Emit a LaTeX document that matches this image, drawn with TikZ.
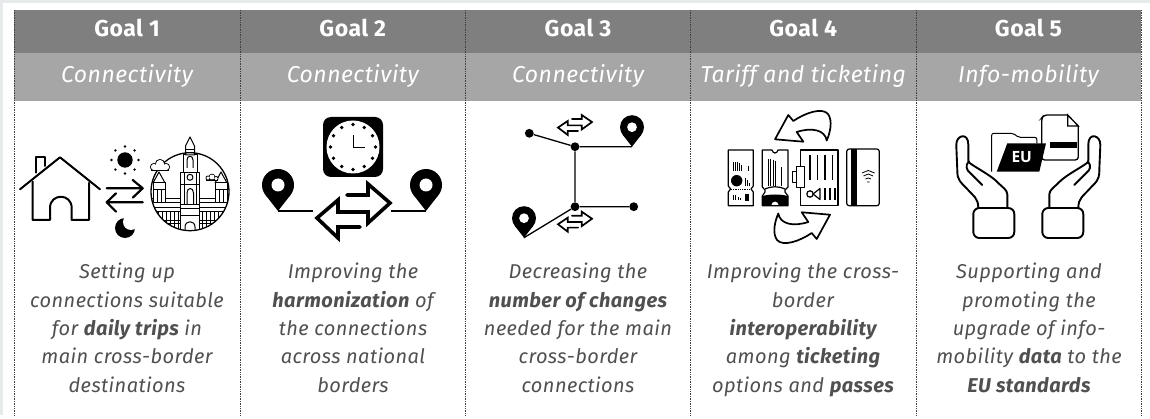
\documentclass[tikz,border=0pt]{standalone}
\usepackage{fontspec}
\setmainfont[LetterSpace=2.2,Ligatures=NoCommon]{Fira Sans}
\newfontfamily\eufont{Open Sans}
\definecolor{bandgrey}{HTML}{E6EAEB}
\definecolor{headdark}{HTML}{7F7F7F}
\definecolor{headlight}{HTML}{A6A6A6}
\definecolor{bodygrey}{HTML}{505050}
\tikzset{
  x=1pt,y=-1pt,
  headone/.style={fill=headdark,text=white,minimum height=43pt,inner sep=0pt,outer sep=0pt,font=\fontsize{23}{26}\selectfont\bfseries},
  headtwo/.style={fill=headlight,text=white,minimum height=48pt,inner sep=0pt,outer sep=0pt,font=\fontsize{23}{26}\selectfont\itshape},
  bodytext/.style={text=bodygrey,align=center,inner sep=0pt,font=\fontsize{20}{28.4}\selectfont\itshape},
  divider/.style={line width=.7pt,black!75,densely dotted},
  ink/.style={black,line width=2pt,line cap=round,line join=round},
  thinink/.style={black,line width=1.2pt,line join=round},
  pics/swapicon/.style={code={
    \draw[line join=miter,line cap=round,fill=none]
      (-6.5,-16)--(14.5,-16)--(14.5,-27)--(36.5,-8)--(14.5,12)--(14.5,1)--(-15.5,1)--(-15.5,-11)--(-36.5,7)--(-15.5,27)--(-15.5,16)--(6.5,16);
  }},
  pics/pinicon/.style={code={
    \fill[black] (0,-26) circle[radius=16pt];
    \fill[black] (0,0)--(-12.6,-16.15)--(12.6,-16.15)--cycle;
    \fill[white] (0,-26) circle[radius=6.5pt];
  }},
  curvedarrow/.style={black,line width=1.7pt,fill=white,line join=round},
  pics/handicon/.style={code={
    \draw[ink,line width=1.9pt,rounded corners=1.5pt]
      (-50,208) .. controls (-50,198) and (-55,196) .. (-62,188)
      .. controls (-67,183) and (-71,180) .. (-71,170) -- (-72,146)
      .. controls (-72,135) and (-60,132) .. (-60,146) -- (-60,162)
      .. controls (-52,168) and (-38,175) .. (-30,183)
      .. controls (-26,187) and (-21,190) .. (-21,196) -- (-21,208);
    \draw[ink,line width=1.9pt] (-60,162) .. controls (-63,166) and (-62,170) .. (-58,173) -- (-46,185);
    \draw[ink,line width=1.9pt,rounded corners=6pt] (-55,208) rectangle (-14,238);
  }}
}
\begin{document}
\begin{tikzpicture}
\useasboundingbox (0,0) rectangle (1150,419);
\fill[white] (0,0) rectangle (1150,419);
\fill[bandgrey] (0,0) rectangle (1150,3);
\fill[bandgrey] (0,0) rectangle (3,415);

% header cells
\foreach \i/\l/\r/\g/\s in {1/14/240/Goal 1/Connectivity,2/240/465.5/Goal 2/Connectivity,3/465.5/690.5/Goal 3/Connectivity,4/690.5/916/Goal 4/Tariff and ticketing,5/916/1141/Goal 5/Info-mobility}{
  \pgfmathsetmacro\cw{\r-\l}
  \pgfmathsetmacro\cx{(\r+\l)/2}
  \node[headone,minimum width=\cw pt] (goal\i) at (\cx,31.5) {\strut\g};
  \node[headtwo,minimum width=\cw pt] (theme\i) at (\cx,77) {\strut\s};
}
\foreach \x in {14,240,465.5,690.5,916,1141}{
  \draw[divider] (\x,10) -- (\x,415);
}

% body texts
\node[bodytext] (text1) at (127,329.8) {\strut Setting up\\connections suitable\\for \textbf{daily trips} in\\main cross-border\\destinations\strut};
\node[bodytext] (text2) at (353,329.8) {\strut Improving the\\\textbf{harmonization} of\\the connections\\across national\\borders\strut};
\node[bodytext] (text3) at (578,329.8) {\strut Decreasing the\\\textbf{number of changes}\\needed for the main\\cross-border\\connections\strut};
\node[bodytext] (text4) at (803,329.8) {\strut Improving the cross-\\border\\\textbf{interoperability}\\among \textbf{ticketing}\\options and \textbf{passes}\strut};
\node[bodytext] (text5) at (1029,329.8) {\strut Supporting and\\promoting the\\upgrade of info-\\mobility \textbf{data} to the\\\textbf{EU standards}\strut};

% ---- icon 1: house
\draw[ink] (20,189.3)--(60,157.3)--(100,189.3);
\draw[ink] (32.7,181.7)--(32.7,220)--(50,220)--(50,208) .. controls (50,193) and (71.7,193) .. (71.7,208)--(71.7,220)--(89,220)--(89,183);
\draw[ink] (36,172.7)--(36,157.3)--(45,157.3)--(45,166);
% sun
\fill (125,160) circle[radius=7.7pt];
\foreach \a in {0,45,...,315}{\fill (125,160)++(\a:13.5pt) circle[radius=1.3pt];}
% day/night arrows
\draw[ink,line width=2.2pt] (106.7,188.3)--(142.7,188.3) (132.7,180)--(142.7,188.3)--(132.7,197.7);
\draw[ink,line width=2.2pt] (142.7,202.3)--(106.7,202.3) (116,193.3)--(106.7,202.3)--(116,211.7);
% moon
\fill (125,228) circle[radius=10pt];
\fill[white] (131,222) circle[radius=8pt];
% city
\begin{scope}
\clip (190,191.7) circle[radius=39pt];
\draw[thinink,line width=1pt] (151,199)--(180,199) (200,199)--(229,199) (151,203)--(180,203) (200,203)--(229,203) (151,208)--(229,208) (151,212)--(229,212) (151,221)--(229,221) (151,224)--(229,224);
\foreach \x in {154,158,162,166,170,174,178,202,206,210,214,218,222,226}{\draw[thinink,line width=.9pt] (\x,212)--(\x,232);}
\draw[thinink,fill=white,line width=1pt] (153,183)--(153,203)--(165,203)--(165,183)--cycle;
\draw[thinink,fill=white,line width=1pt] (215,183)--(215,203)--(227,203)--(227,183)--cycle;
\draw[thinink,fill=white,line width=1pt] (180.7,173)--(180.7,232)--(199.3,232)--(199.3,173)--cycle;
\draw[thinink,line width=1pt] (180.7,185)--(199.3,185) (180.7,205)--(199.3,205) (180.7,209)--(199.3,209) (180.7,216)--(199.3,216) (184,173)--(184,205) (196,173)--(196,205);
\draw[thinink,line width=1pt] (187,205)--(187,193) .. controls (187,187) and (193.5,187) .. (193.5,193)--(193.5,205);
\draw[thinink,line width=1pt] (185,232)--(185,227) .. controls (185,220) and (195,220) .. (195,227)--(195,232);
\end{scope}
\draw[thinink,fill=white,line width=1pt] (183,173)--(183,155)--(197,155)--(197,173)--cycle;
\draw[thinink,line width=1pt] (187,168)--(187,160) .. controls (187,155) and (193,155) .. (193,160)--(193,168);
\draw[thinink,fill=white,line width=1pt] (185.5,155)--(185.5,146)--(190,137)--(194.5,146)--(194.5,155)--cycle;
\draw[thinink,line width=1pt] (185.5,150)--(194.5,150);
\draw[thinink,fill=white,line width=1pt] (190,177.3) circle[radius=3pt];
\draw[thinink,line width=1pt] (153,183)--(159,172)--(165,183) (215,183)--(221,172)--(227,183);
\draw[thinink,line width=1pt] (153,190)--(165,190) (215,190)--(227,190) (157,190)--(157,203) (161,190)--(161,203) (219,190)--(219,203) (223,190)--(223,203);
\draw[black,line width=1.3pt] (190,191.7) circle[radius=39pt];
% clouds
\draw[black,line width=1pt,fill=white] (154,167) circle[radius=3.5pt] (160,164) circle[radius=4.5pt] (166,167) circle[radius=3.5pt];
\fill[white] (154,167) circle[radius=3pt] (160,164) circle[radius=4pt] (166,167) circle[radius=3pt] (154,165) rectangle (166,170);
\draw[black,line width=1pt] (151,170.3)--(169,170.3);
\draw[black,line width=.9pt,fill=white] (208,178) circle[radius=2pt] (212,177) circle[radius=2.8pt] (216,178.5) circle[radius=2pt];
\fill[white] (208,178) circle[radius=1.6pt] (212,177) circle[radius=2.4pt] (216,178.5) circle[radius=1.6pt];
\draw[black,line width=.9pt] (206,180.5)--(218,180.5);

% ---- icon 2: clock and pins
\fill[black,rounded corners=8pt] (323,117) rectangle (383,177);
\fill[white] (353,147) circle[radius=26.5pt];
\foreach \a in {0,30,...,330}{\fill (353,147)++(\a:22.5pt) circle[radius=1.9pt];}
\draw[black,line width=1pt] (353.3,135)--(353.3,147.6)--(365,147.6);
\pic at (278,211) {pinicon};
\pic at (426,211) {pinicon};
\coordinate (swapL) at (313,211);
\coordinate (swapR) at (391,211);
\coordinate (pinL) at (278,211);
\coordinate (pinR) at (426,211);
\draw[black,line width=1.7pt] (pinL)--(swapL) (swapR)--(pinR);
\pic[black,line width=3.6pt] at (353.5,211) {swapicon};

% ---- icon 3: route
\node[circle,fill=black,minimum size=8.8pt,inner sep=0pt] (stopA) at (529.3,133.3) {};
\node[circle,fill=black,minimum size=8.8pt,inner sep=0pt] (hubA) at (575,146.7) {};
\node[circle,fill=black,minimum size=8.8pt,inner sep=0pt] (hubB) at (575,206.7) {};
\node[circle,fill=black,minimum size=8.8pt,inner sep=0pt] (stopB) at (633.7,206.7) {};
\coordinate (pinTop) at (632,146.7);
\coordinate (pinBot) at (524,237.7);
\draw[black,line width=1.3pt] (stopA)--(hubA) (hubA)--(pinTop) (hubA)--(hubB) (hubB)--(stopB) (hubB)--(pinBot);
\pic[scale=.75] at (pinTop) {pinicon};
\pic[scale=.75] at (pinBot) {pinicon};
\pic[black,line width=1.7pt,xscale=.466,yscale=.37] at (575,125) {swapicon};
\pic[black,line width=1.7pt,xscale=.466,yscale=.37] at (575,221.7) {swapicon};

% ---- icon 4: tickets
\draw[curvedarrow] (788.3,115)--(793.3,121) .. controls (805,113) and (822,107) .. (828,114)
  .. controls (833,121) and (830,133) .. (826.7,140.5)
  .. controls (825,130) and (812,127) .. (796.7,132)--(803.3,141.7)--(775,139.3)--cycle;
\draw[curvedarrow] (816.7,239)--(811.7,233) .. controls (800,241) and (783,247) .. (777,240)
  .. controls (772,233) and (775,221) .. (778.3,213.5)
  .. controls (780,224) and (793,227) .. (808.3,222)--(801.7,212.3)--(830,214.7)--cycle;
% ticket 1
\draw[thinink] (728.3,150)--(753.3,150)--(753.3,186)--(751,189)--(753.3,192)--(753.3,205.7)--(728.3,205.7)--(728.3,192)--(730.6,189)--(728.3,186)--cycle;
\foreach \x/\t in {733/162,735/162,737/162,739/163,741/165,748/166}{\draw[black,line width=1pt] (\x,\t)--(\x,171);}
\fill (736.7,180.7) circle[radius=5.7pt];
\foreach \x/\t in {745/178,747/180,749/183}{\draw[black,line width=1pt] (\x,\t)--(\x,186);}
\draw[black,line width=.8pt,densely dotted] (731,189)--(751,189);
\foreach \x/\t in {733/195,735/195,738/197,740/198}{\draw[black,line width=1pt] (\x,\t)--(\x,200);}
\fill (744.5,194) rectangle (749,201);
% ticket 2
\draw[thinink] (762.3,150)--(772,150) .. controls (773,154) and (777,154) .. (778,150)--(788,150)--(788,187)--(785,190)--(785,192)--(788,196)--(788,205.7)--(762.3,205.7)--(762.3,196)--(765,192)--(765,190)--(762.3,187)--cycle;
\fill[black] (762.3,196) .. controls (770,194) and (780,194) .. (788,196)--(788,205.7)--(779,205.7) .. controls (778,200) and (772,200) .. (771,205.7)--(762.3,205.7)--cycle;
\foreach \x/\t/\e in {768/159/186,770.5/159/186,773/160/186,775.5/161/186,781/167/186}{\draw[black,line width=1pt] (\x,\t)--(\x,\e);}
\draw[thinink] (765,189) .. controls (772,186) and (778,186) .. (785,189);
% ticket 3
\draw[thinink] (800.7,150) rectangle (838,205.7);
\foreach \x in {810,817.3,825,832.7}{\draw[black,line width=1.1pt] (\x,155)--(\x,180);}
\draw[thinink,fill=white] (792.7,171.7) rectangle (797,182.7);
\draw[thinink,fill=white] (796.7,166.7) rectangle (804.3,187.7);
\draw[thinink] (810,194) circle[radius=3.2pt];
\draw[thinink] (813,194)--(820,188.5)--(820,199.5)--cycle;
\foreach \x in {825,830,835}{\draw[black,line width=1.1pt] (\x,188)--(\x,200);}
% card
\draw[thinink,rounded corners=2.5pt] (846.7,149) rectangle (879.3,205.7);
\fill (850.7,149) rectangle (856.7,205.7);
\draw[black,line width=.8pt] (862,173)--(868.3,170.5)--(874.6,173) (863.5,176)--(868.3,174)--(873,176) (865.5,179)--(868.3,178)--(871,179) (867,182)--(869.6,182);

% ---- icon 5: documents in hands
\draw[black,line width=1.3pt,rounded corners=3pt] (1067.7,115)--(1044,115)--(1041.7,118)--(1041.7,160)--(1078.3,160)--(1078.3,126);
\draw[black,line width=1.3pt,fill=white] (1067.7,115)--(1067.7,126)--(1078.3,126)--cycle;
\fill (1050,141.7) rectangle (1076.7,148.3);
\draw[black,line width=1pt,rounded corners=2pt] (991.7,171.7)--(991.7,133.3)--(1013.3,133.3)--(1018.3,137.3)--(1036.7,137.3)--(1037,143.3);
\fill[black] (1007.3,143.3)--(1046,143.3)--(1039.3,171.7)--(996.7,171.7)--cycle;
\node[text=white,inner sep=0pt,font=\eufont\bfseries\fontsize{15.5}{16}\selectfont] (eulabel) at (1021.7,157) {EU};
\begin{scope}[shift={(1028.3,0)}]
\pic {handicon};
\pic[xscale=-1] {handicon};
\end{scope}
\end{tikzpicture}
\end{document}
